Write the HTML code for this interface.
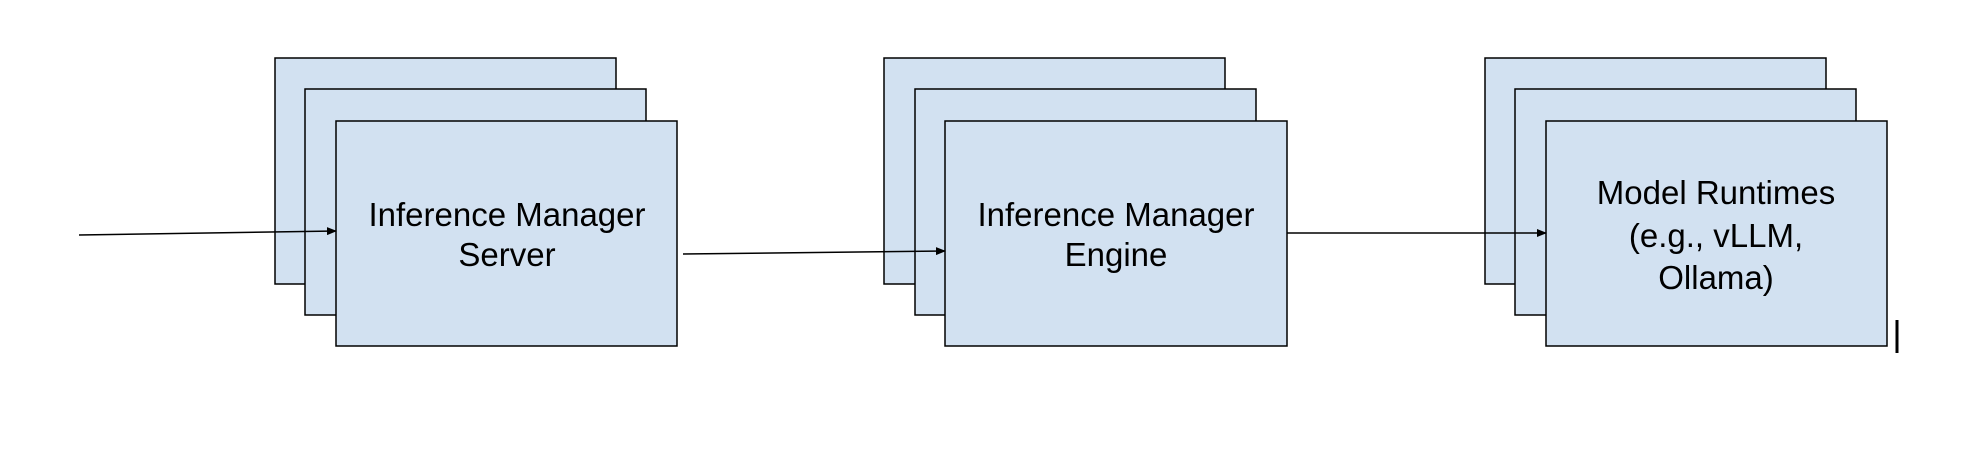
<!DOCTYPE html>
<html><head><style>
body{margin:0;background:#fff;}
svg{display:block}
text{font-family:"Liberation Sans",Arial,sans-serif;font-size:33px;fill:#000;text-anchor:middle}
</style></head><body>
<svg width="1966" height="458" viewBox="0 0 1966 458">
<defs><marker id="a" markerWidth="10" markerHeight="8" refX="9" refY="4" orient="auto" markerUnits="userSpaceOnUse"><path d="M0,0 L10,4 L0,8 z" fill="#000"/></marker></defs>
<g fill="#d2e1f1" stroke="#000" stroke-width="1.5">
<rect x="275" y="58" width="341" height="226"/>
<rect x="305" y="89" width="341" height="226"/>
<rect x="336" y="121" width="341" height="225"/>
<rect x="884" y="58" width="341" height="226"/>
<rect x="915" y="89" width="341" height="226"/>
<rect x="945" y="121" width="342" height="225"/>
<rect x="1485" y="58" width="341" height="226"/>
<rect x="1515" y="89" width="341" height="226"/>
<rect x="1546" y="121" width="341" height="225"/>
</g>
<g stroke="#000" stroke-width="1.5" fill="none">
<line x1="79" y1="235" x2="336" y2="231" marker-end="url(#a)"/>
<line x1="683" y1="254" x2="945" y2="251" marker-end="url(#a)"/>
<line x1="1287" y1="233" x2="1546" y2="233" marker-end="url(#a)"/>
</g>
<line x1="1897" y1="320" x2="1897" y2="353" stroke="#000" stroke-width="3"/>
<text x="507" y="226">Inference Manager</text>
<text x="507" y="266">Server</text>
<text x="1116" y="226">Inference Manager</text>
<text x="1116" y="266">Engine</text>
<text x="1716" y="204">Model Runtimes</text>
<text x="1716" y="247">(e.g., vLLM,</text>
<text x="1716" y="289">Ollama)</text>
</svg>
</body></html>
